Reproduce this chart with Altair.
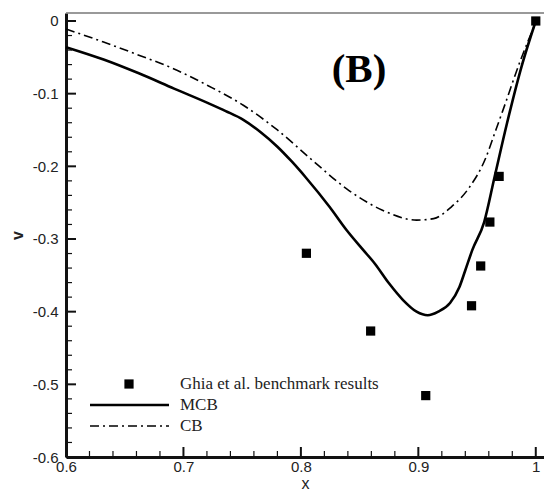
import altair as alt
import pandas as pd

# ---- data ----
mcb_x = [0.600, 0.632, 0.662, 0.692, 0.721, 0.736, 0.751, 0.765, 0.780, 0.792, 0.804, 0.8245,
         0.839, 0.853, 0.863, 0.875, 0.887, 0.8985, 0.908, 0.917, 0.927, 0.935, 0.940, 0.946,
         0.956, 0.965, 0.9756, 0.988, 1.000]
mcb_v = [-0.036, -0.053, -0.072, -0.093, -0.113, -0.124, -0.136, -0.152, -0.173, -0.193, -0.215,
         -0.256, -0.288, -0.315, -0.334, -0.361, -0.384, -0.400, -0.405, -0.400, -0.388, -0.366,
         -0.343, -0.315, -0.277, -0.214, -0.140, -0.062, 0.000]

cb_x = [0.600, 0.632, 0.662, 0.692, 0.721, 0.751, 0.780, 0.810, 0.839, 0.869, 0.8985, 0.913,
        0.928, 0.943, 0.957, 0.966, 0.972, 0.987, 1.000]
cb_v = [-0.011, -0.029, -0.047, -0.066, -0.089, -0.116, -0.150, -0.192, -0.231, -0.260, -0.274,
        -0.272, -0.256, -0.230, -0.190, -0.150, -0.123, -0.054, -0.002]

ghia_x = [0.8047, 0.8594, 0.9063, 0.9453, 0.9531, 0.9609, 0.9688, 1.0]
ghia_v = [-0.31966, -0.42665, -0.51550, -0.39188, -0.33714, -0.27669, -0.21388, 0.0]

x_major = [0.6, 0.7, 0.8, 0.9, 1.0]
x_minor = [0.62, 0.64, 0.66, 0.68, 0.72, 0.74, 0.76, 0.78, 0.82, 0.84, 0.86, 0.88,
           0.92, 0.94, 0.96, 0.98]
y_major = [-0.6, -0.5, -0.4, -0.3, -0.2, -0.1, 0.0]
y_minor = [-0.58, -0.56, -0.54, -0.52, -0.48, -0.46, -0.44, -0.42, -0.38, -0.36, -0.34, -0.32,
           -0.28, -0.26, -0.24, -0.22, -0.18, -0.16, -0.14, -0.12, -0.08, -0.06, -0.04, -0.02]

legend_labels = ["Ghia et al. benchmark results", "MCB", "CB"]
panel_label = "(B)"

W, H = 478, 444
XDOM = [0.6, 1.007]
YDOM = [-0.6, 0.011]

mcb = pd.DataFrame({"x": mcb_x, "v": mcb_v})
cb = pd.DataFrame({"x": cb_x, "v": cb_v})
ghia = pd.DataFrame({"x": ghia_x, "v": ghia_v})

xs = alt.Scale(domain=XDOM, nice=False, zero=False)
ys = alt.Scale(domain=YDOM, nice=False, zero=False)

x_axis = alt.Axis(values=x_major, ticks=False, grid=False, domainWidth=3, domainColor="#111",
                  labelExpr="datum.value == 1 ? '1' : '0.' + round(datum.value*10)",
                  labelFont="Liberation Sans", labelFontSize=15, labelColor="#222",
                  labelPadding=2, labelFlush=False, labelOverlap=False,
                  title="x", titleFont="Liberation Sans", titleFontSize=16, titleFontWeight="normal",
                  titleColor="#222", titleX=239, titleY=26, titleBaseline="middle", titleAlign="center")
y_axis = alt.Axis(values=y_major, ticks=False, grid=False, domainWidth=3, domainColor="#111",
                  labelExpr="datum.value == 0 ? '0' : '-0.' + round(abs(datum.value)*10)",
                  labelFont="Liberation Sans", labelFontSize=15, labelColor="#222",
                  labelPadding=8, labelFlush=False, labelOverlap=False,
                  title="v", titleFont="Liberation Sans", titleFontSize=16, titleFontWeight="bold",
                  titleColor="#222", titleX=-49, titleY=222, titleAngle=270,
                  titleBaseline="middle", titleAlign="center")

X = alt.X("x:Q", scale=xs, axis=x_axis)
Y = alt.Y("v:Q", scale=ys, axis=y_axis)

mcb_line = alt.Chart(mcb).mark_line(color="black", strokeWidth=2.6, interpolate="monotone").encode(
    x=X, y=Y)
cb_line = alt.Chart(cb).mark_line(color="black", strokeWidth=1.6, strokeDash=[9, 4, 2, 4],
                                  interpolate="monotone").encode(x=X, y=Y)
pts = alt.Chart(ghia).mark_point(shape="square", filled=True, color="black", size=85,
                                 opacity=1).encode(x=X, y=Y)

def xticks(vals, length, w):
    return alt.Chart(pd.DataFrame({"x": vals})).mark_rule(color="#111", strokeWidth=w).encode(
        x=X, y=alt.value(H), y2=alt.value(H - length))

def yticks(vals, length, w):
    return alt.Chart(pd.DataFrame({"v": vals})).mark_rule(color="#111", strokeWidth=w).encode(
        y=Y, x=alt.value(0), x2=alt.value(length))

one = pd.DataFrame({"a": [0]})
top_frame = alt.Chart(one).mark_rule(color="#777", strokeWidth=1.5).encode(
    x=alt.value(0), x2=alt.value(W), y=alt.value(0))

# legend (drawn in pixel space)
leg_sq = alt.Chart(one).mark_point(shape="square", filled=True, color="black",
                                   size=85, opacity=1).encode(x=alt.value(63), y=alt.value(371))
leg_mcb = alt.Chart(one).mark_rule(color="black", strokeWidth=2.6).encode(
    x=alt.value(24), x2=alt.value(103), y=alt.value(392))
leg_cb = alt.Chart(one).mark_rule(color="black", strokeWidth=1.6, strokeDash=[9, 4, 2, 4]).encode(
    x=alt.value(24), x2=alt.value(103), y=alt.value(413))

def leg_text(label, ypix):
    return alt.Chart(pd.DataFrame({"t": [label]})).mark_text(
        align="left", baseline="middle", font="Liberation Serif", fontSize=17,
        color="#222").encode(x=alt.value(114), y=alt.value(ypix), text="t:N")

title_txt = alt.Chart(pd.DataFrame({"t": [panel_label]})).mark_text(
    font="Liberation Serif", fontSize=41, fontWeight="bold", color="black",
    align="center", baseline="middle").encode(x=alt.value(293), y=alt.value(57), text="t:N")

chart = alt.layer(
    mcb_line, cb_line, pts,
    xticks(x_major, 10, 2), xticks(x_minor, 6, 1.2),
    yticks(y_major, 10, 2), yticks(y_minor, 6, 1.2),
    top_frame, leg_sq, leg_mcb, leg_cb,
    leg_text(legend_labels[0], 371), leg_text(legend_labels[1], 392), leg_text(legend_labels[2], 413),
    title_txt
).properties(
    width=W, height=H,
    padding={"left": 66, "top": 13, "right": 0, "bottom": 38},
    autosize=alt.AutoSizeParams(type="none"),
    background="white",
).configure_view(stroke=None)

chart.save("out.html", embed_options={"renderer": "svg", "actions": False})
